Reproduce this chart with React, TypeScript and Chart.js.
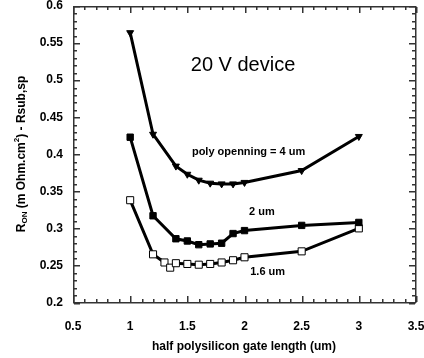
import React, { useEffect, useRef } from "react";
import { Chart, registerables } from "chart.js";

Chart.register(...registerables);

// ---- data ----
const xTop = [1, 1.2, 1.4, 1.5, 1.6, 1.7, 1.8, 1.9, 2, 2.5, 3];
const yTop = [0.564, 0.427, 0.384, 0.373, 0.365, 0.361, 0.36, 0.36, 0.362, 0.378, 0.424];

const xMid = [1, 1.2, 1.4, 1.5, 1.6, 1.7, 1.8, 1.9, 2, 2.5, 3];
const yMid = [0.423, 0.317, 0.286, 0.283, 0.278, 0.279, 0.28, 0.293, 0.297, 0.304, 0.308];

const xBot = [1, 1.2, 1.3, 1.35, 1.4, 1.5, 1.6, 1.7, 1.8, 1.9, 2, 2.5, 3];
const yBot = [0.338, 0.265, 0.254, 0.247, 0.253, 0.252, 0.251, 0.252, 0.254, 0.257, 0.261, 0.269, 0.3];

const xTickLabels = ["0.5", "1", "1.5", "2", "2.5", "3", "3.5"];
const yTickLabels = ["0.2", "0.25", "0.3", "0.35", "0.4", "0.45", "0.5", "0.55", "0.6"];

const xTitle = "half polysilicon gate length (um)";
const yTitleParts = ["R", "ON", " (m Ohm.cm", "2", ") - Rsub,sp"];
const annotations = [
  { text: "20 V device", x: 1.53, y: 0.52, font: "20px 'Liberation Sans', Arial, sans-serif" },
  { text: "poly openning = 4 um", x: 1.54, y: 0.403, font: "bold 11px 'Liberation Sans', Arial, sans-serif" },
  { text: "2 um", x: 2.04, y: 0.322, font: "bold 11px 'Liberation Sans', Arial, sans-serif" },
  { text: "1.6 um", x: 2.05, y: 0.241, font: "bold 11px 'Liberation Sans', Arial, sans-serif" },
];

const toPts = (xs: number[], ys: number[]) => xs.map((x, i) => ({ x, y: ys[i] }));

const zeroPad = (s: any) => {
  s.paddingLeft = 0;
  s.paddingRight = 0;
  s.paddingTop = 0;
  s.paddingBottom = 0;
};

export default function App() {
  const ref = useRef<HTMLCanvasElement>(null);

  useEffect(() => {
    document.body.style.margin = "0";
    const canvas = ref.current!;

    const framePlugin = {
      id: "frameTicks",
      afterDraw(chart: any) {
        const ctx: CanvasRenderingContext2D = chart.ctx;
        const xs = chart.scales.x;
        const ys = chart.scales.y;
        const L = Math.round(xs.getPixelForValue(0.5));
        const R = Math.round(xs.getPixelForValue(3.5)) - 1;
        const T = Math.round(ys.getPixelForValue(0.6));
        const B = Math.round(ys.getPixelForValue(0.2)) - 1;
        ctx.save();
        ctx.globalAlpha = 1;
        ctx.fillStyle = "#333";
        // frame
        ctx.fillRect(L, T, R - L + 1, 1.5);
        ctx.fillRect(L, B, R - L + 1, 1.5);
        ctx.fillRect(L, T, 1.5, B - T + 1);
        ctx.fillRect(R, T, 1.5, B - T + 1);
        // x ticks every 0.1, major at 0.5
        for (let i = 0; i <= 30; i++) {
          const px = Math.round(xs.getPixelForValue(0.5 + i * 0.1));
          const len = i % 5 === 0 ? 6 : 3;
          ctx.fillRect(px, B - len, 1.5, len);
          ctx.fillRect(px, T + 1, 1.5, len);
        }
        // y ticks every 0.01, major at 0.05
        for (let i = 0; i <= 40; i++) {
          const py = Math.round(ys.getPixelForValue(0.2 + i * 0.01));
          const len = i % 5 === 0 ? 6 : 3;
          ctx.fillRect(L + 1, py, len, 1.5);
          ctx.fillRect(R - len, py, len, 1.5);
        }

        ctx.fillStyle = "#000";
        // annotations
        ctx.textBaseline = "middle";
        ctx.textAlign = "left";
        for (const a of annotations) {
          ctx.font = a.font;
          ctx.fillText(a.text, xs.getPixelForValue(a.x), ys.getPixelForValue(a.y));
        }
        // x title
        ctx.textAlign = "center";
        ctx.font = "bold 12px 'Liberation Sans', Arial, sans-serif";
        ctx.fillText(xTitle, (L + R) / 2, 347);
        // y title with sub/superscript
        const big = "bold 12px 'Liberation Sans', Arial, sans-serif";
        const small = "bold 8px 'Liberation Sans', Arial, sans-serif";
        const fonts = [big, small, big, small, big];
        const offs = [0, 3, 0, -5, 0];
        let total = 0;
        const widths = yTitleParts.map((t, i) => {
          ctx.font = fonts[i];
          const w = ctx.measureText(t).width;
          total += w;
          return w;
        });
        ctx.translate(22, (T + B) / 2);
        ctx.rotate(-Math.PI / 2);
        ctx.textAlign = "left";
        let cx = -total / 2;
        yTitleParts.forEach((t, i) => {
          ctx.font = fonts[i];
          ctx.fillText(t, cx, offs[i]);
          cx += widths[i];
        });
        ctx.restore();
      },
    };

    const common = {
      borderColor: "#000",
      borderWidth: 3,
      tension: 0,
      pointBorderColor: "#000",
    };

    const chart = new Chart(canvas, {
      type: "line",
      data: {
        datasets: [
          {
            ...common,
            label: "poly openning = 4 um",
            data: toPts(xTop, yTop),
            pointStyle: "triangle",
            rotation: 180,
            pointRadius: 4,
            pointBackgroundColor: "#000",
            pointBorderWidth: 1,
          },
          {
            ...common,
            label: "2 um",
            data: toPts(xMid, yMid),
            pointStyle: "rect",
            pointRadius: 4.5,
            pointBackgroundColor: "#000",
            pointBorderWidth: 1,
          },
          {
            ...common,
            label: "1.6 um",
            data: toPts(xBot, yBot),
            pointStyle: "rect",
            pointRadius: 5,
            pointBackgroundColor: "#fff",
            pointBorderWidth: 1,
          },
        ] as any,
      },
      options: {
        animation: false,
        responsive: false,
        maintainAspectRatio: false,
        layout: { autoPadding: false, padding: { left: 0, right: 8, top: 6, bottom: 0 } },
        plugins: { legend: { display: false }, tooltip: { enabled: false } },
        scales: {
          x: {
            type: "linear",
            min: 0.5,
            max: 3.5,
            grid: { display: false, drawTicks: false },
            border: { display: false },
            ticks: {
              stepSize: 0.5,
              padding: 17,
              color: "#000",
              maxRotation: 0,
              autoSkip: false,
              font: { family: "'Liberation Sans', Arial, sans-serif", size: 12, weight: "bold" },
              callback: (_v: any, i: number) => xTickLabels[i],
            },
            afterFit: (s: any) => {
              s.height = 55.5;
              zeroPad(s);
            },
          },
          y: {
            type: "linear",
            min: 0.2,
            max: 0.6,
            grid: { display: false, drawTicks: false },
            border: { display: false },
            ticks: {
              stepSize: 0.05,
              padding: 10,
              color: "#000",
              autoSkip: false,
              font: { family: "'Liberation Sans', Arial, sans-serif", size: 12, weight: "bold" },
              callback: (_v: any, i: number) => yTickLabels[i],
            },
            afterFit: (s: any) => {
              s.width = 73;
              zeroPad(s);
            },
          },
        },
      } as any,
      plugins: [framePlugin],
    });

    return () => chart.destroy();
  }, []);

  return (
    <div style={{ position: "absolute", left: 0, top: 0, width: 424, height: 358 }}>
      <canvas ref={ref} width={424} height={358} />
    </div>
  );
}
